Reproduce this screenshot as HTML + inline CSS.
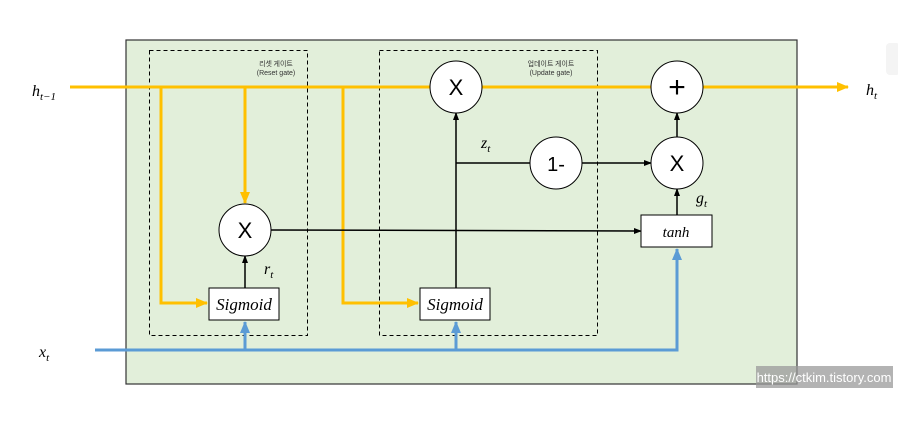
<!DOCTYPE html>
<html><head><meta charset="utf-8"><style>body{margin:0;background:#fff}svg{display:block}</style></head><body>
<svg width="898" height="435" viewBox="0 0 898 435" xmlns="http://www.w3.org/2000/svg" font-family="Liberation Serif, serif">
<defs>
<marker id="ao" markerWidth="12" markerHeight="10" refX="11" refY="5" orient="auto" markerUnits="userSpaceOnUse"><path d="M0,0L12,5L0,10z" fill="#FFC000"/></marker>
<marker id="ab" markerWidth="12" markerHeight="10" refX="11" refY="5" orient="auto" markerUnits="userSpaceOnUse"><path d="M0,0L12,5L0,10z" fill="#5B9BD5"/></marker>
<marker id="ak" markerWidth="8" markerHeight="8" refX="7" refY="4" orient="auto" markerUnits="userSpaceOnUse"><path d="M0,1L8,4L0,7z" fill="#000"/></marker>
</defs>
<rect x="126" y="40" width="671" height="344" fill="#E2EFDA" stroke="#333" stroke-width="1.2"/>
<rect x="149.5" y="50.5" width="158" height="285" fill="none" stroke="#000" stroke-dasharray="4,3"/>
<rect x="379.5" y="50.5" width="218" height="285" fill="none" stroke="#000" stroke-dasharray="4,3"/>
<text x="276" y="66" font-size="7" font-family="Noto Sans CJK KR, sans-serif" text-anchor="middle" fill="#333">리셋 게이트</text>
<text x="276" y="75" font-size="7" font-family="Liberation Sans, sans-serif" text-anchor="middle" fill="#333">(Reset gate)</text>
<text x="551" y="66" font-size="7" font-family="Noto Sans CJK KR, sans-serif" text-anchor="middle" fill="#333">업데이트 게이트</text>
<text x="551" y="75" font-size="7" font-family="Liberation Sans, sans-serif" text-anchor="middle" fill="#333">(Update gate)</text>
<g stroke="#FFC000" stroke-width="3" fill="none">
<line x1="70" y1="87" x2="848" y2="87" marker-end="url(#ao)"/>
<polyline points="161,87 161,303 207,303" marker-end="url(#ao)"/>
<line x1="245" y1="87" x2="245" y2="203" marker-end="url(#ao)"/>
<polyline points="343,87 343,303 418,303" marker-end="url(#ao)"/>
</g>
<g stroke="#5B9BD5" stroke-width="3" fill="none">
<polyline points="95,350 677,350 677,249" marker-end="url(#ab)"/>
<line x1="245" y1="350" x2="245" y2="322" marker-end="url(#ab)"/>
<line x1="456" y1="350" x2="456" y2="322" marker-end="url(#ab)"/>
</g>
<g stroke="#000" stroke-width="1.5" fill="none">
<line x1="271" y1="230" x2="641" y2="231" marker-end="url(#ak)"/>
<line x1="245" y1="288" x2="245" y2="256" marker-end="url(#ak)"/>
<line x1="456" y1="288" x2="456" y2="113" marker-end="url(#ak)"/>
<line x1="456" y1="163" x2="530" y2="163"/>
<line x1="582" y1="163" x2="651" y2="163" marker-end="url(#ak)"/>
<line x1="677" y1="215" x2="677" y2="189" marker-end="url(#ak)"/>
<line x1="677" y1="137" x2="677" y2="113" marker-end="url(#ak)"/>
</g>
<g fill="#fff" stroke="#000" stroke-width="1">
<circle cx="245" cy="230" r="26"/><circle cx="456" cy="87" r="26"/><circle cx="556" cy="163" r="26"/>
<circle cx="677" cy="87" r="26"/><circle cx="677" cy="163" r="26"/>
<rect x="209" y="288" width="70" height="32"/><rect x="420" y="288" width="70" height="32"/><rect x="641" y="215" width="71" height="32"/>
</g>
<g font-family="Liberation Sans, sans-serif" font-size="22" text-anchor="middle" fill="#000">
<text x="245" y="238">X</text><text x="456" y="95">X</text><text x="677" y="171">X</text>
<text x="556" y="171" font-size="20">1-</text><text x="677" y="97" font-size="30">+</text>
</g>
<g font-style="italic" font-size="17" text-anchor="middle">
<text x="244" y="310">Sigmoid</text><text x="455" y="310">Sigmoid</text><text x="676" y="237" font-size="15">tanh</text>
</g>
<g font-style="italic" font-size="16">
<text x="32" y="96">h<tspan font-size="11" dy="4">t−1</tspan></text>
<text x="866" y="95">h<tspan font-size="11" dy="4">t</tspan></text>
<text x="39" y="357">x<tspan font-size="11" dy="4">t</tspan></text>
<text x="264" y="274">r<tspan font-size="11" dy="4">t</tspan></text>
<text x="481" y="148">z<tspan font-size="11" dy="4">t</tspan></text>
<text x="696" y="203">g<tspan font-size="11" dy="4">t</tspan></text>
</g>
<rect x="756" y="366" width="137" height="22" fill="#999" opacity="0.75"/>
<text x="824" y="382" font-family="Liberation Sans, sans-serif" font-size="13" fill="#fff" text-anchor="middle">https://ctkim.tistory.com</text>
<rect x="886" y="43" width="14" height="32" rx="4" fill="#f4f4f4"/>
</svg>
</body></html>
